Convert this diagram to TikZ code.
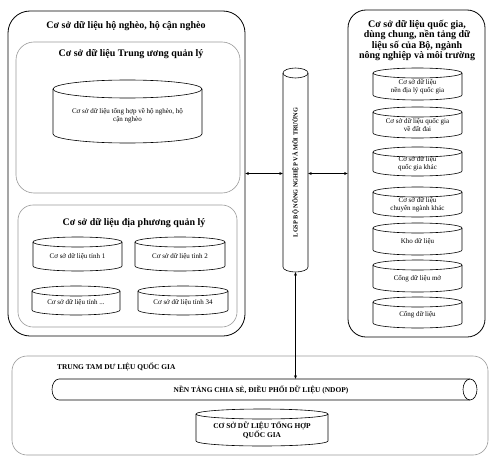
\documentclass[tikz,border=0pt]{standalone}
\usepackage{fontspec}
\setmainfont{Liberation Serif}
\usetikzlibrary{arrows.meta}
\tikzset{
  boxblack/.style={draw=black, line width=0.8pt, rounded corners=20pt, inner sep=0pt},
  boxgray/.style={draw=black!40, line width=0.6pt, rounded corners=16pt, inner sep=0pt},
  cylline/.style={draw=black, line width=0.6pt},
  ttl/.style={font=\bfseries\fontsize{10}{10.6}\selectfont, inner sep=0pt},
  ctext/.style={font=\fontsize{7}{8}\selectfont, align=center, inner sep=0pt},
  capt/.style={font=\bfseries\fontsize{7.4}{8}\selectfont, inner sep=0pt},
  link/.style={{Stealth[length=3.5pt,width=3pt]}-{Stealth[length=3.5pt,width=3pt]}, line width=0.5pt},
}
% [style] name x1 y1 x2 y2 ry text
\newcommand\dbcyl[8][]{%
  \pgfmathsetmacro\cylcx{(#3+#5)/2}%
  \pgfmathsetmacro\cylrx{(#5-#3)/2}%
  \draw[cylline] (\cylcx,#4+#7) ellipse [x radius=\cylrx, y radius=#7];
  \draw[cylline] (#3,#4+#7) -- (#3,#6-#7) arc[start angle=180, end angle=0, x radius=\cylrx, y radius=#7] -- (#5,#4+#7);
  \node[ctext, minimum width={(#5-#3)*1pt}, minimum height={(#6-#4-#7)*1pt}, #1] (#2) at (\cylcx,{(#4+#7+#6)/2}) {#8};
}
\begin{document}
\begin{tikzpicture}[x=1pt,y=-1pt]
\useasboundingbox (0,0) rectangle (495,471);

% left group
\node[boxblack, rounded corners=22pt, minimum width=237pt, minimum height=325pt] (hn) at (126.5,173.5) {};
\node[ttl] (t1) at (126,26) {Cơ sở dữ liệu hộ nghèo, hộ cận nghèo};
\node[boxgray, rounded corners=18pt, minimum width=224pt, minimum height=151pt] (tw) at (128,117.5) {};
\node[ttl] (t2) at (131,54) {Cơ sở dữ liệu Trung ương quản lý};
\dbcyl{c0}{53}{80}{202}{143}{9}{Cơ sở dữ liệu tổng hợp về hộ nghèo, hộ\\cận nghèo}
\node[boxgray, rounded corners=15pt, minimum width=219pt, minimum height=122pt] (dp) at (127.5,266) {};
\node[ttl] (t3) at (134,223) {Cơ sở dữ liệu địa phương quản lý};
\dbcyl{p1}{33}{237}{122}{271}{5}{Cơ sở dữ liệu tỉnh 1}
\dbcyl{p2}{135}{237}{225}{271}{5}{Cơ sở dữ liệu tỉnh 2}
\dbcyl{p3}{32}{286}{120}{315}{5}{Cơ sở dữ liệu tỉnh ...}
\dbcyl{p4}{138}{286}{228}{315}{5}{Cơ sở dữ liệu tỉnh 34}

% right group
\node[boxblack, rounded corners=18pt, minimum width=137pt, minimum height=327pt] (rb) at (416.5,173.5) {};
\node[ttl, align=center] (t4) at (417,40.5) {Cơ sở dữ liệu quốc gia,\\dùng chung, nền tảng dữ\\liệu số của Bộ, ngành\\nông nghiệp và môi trường};
\dbcyl{r1}{373}{68}{462}{100}{5}{Cơ sở dữ liệu\\nền địa lý quốc gia}
\dbcyl{r2}{373}{107}{462}{138}{5}{Cơ sở dữ liệu quốc gia\\về đất đai}
\dbcyl{r3}{373}{147}{462}{176}{5}{Cơ sở dữ liệu\\quốc gia khác}
\dbcyl{r4}{373}{187}{462}{217}{5}{Cơ sở dữ liệu\\chuyên ngành khác}
\dbcyl{r5}{373}{223}{462}{255}{5}{Kho dữ liệu}
\dbcyl{r6}{373}{260}{462}{292}{5}{Cổng dữ liệu mở}
\dbcyl{r7}{373}{297}{462}{328}{5}{Cổng dữ liệu}

% LGSP pipe
\dbcyl{pipe}{283}{68}{308}{272}{5}{}
\node[rotate=90, font=\bfseries\fontsize{6.3}{7}\selectfont, inner sep=0pt] (pipetxt) at (pipe.center) {LGSP BỘ NÔNG NGHIỆP VÀ MÔI TRƯỜNG};

% bottom group
\node[boxgray, rounded corners=15pt, minimum width=476pt, minimum height=99pt] (ndc) at (250,405.5) {};
\node[capt, anchor=west] (t5) at (57,367) {TRUNG TAM DƯ LIỆU QUỐC GIA};
\draw[cylline] (470,389.5) ellipse [x radius=7, y radius=10.5];
\draw[cylline] (470,379) -- (59,379) arc[start angle=270, end angle=90, x radius=7, y radius=10.5] -- (470,400);
\node[capt, minimum width=418pt, minimum height=21pt] (ndop) at (261,389.5) {NỀN TẢNG CHIA SẺ, ĐIỀU PHỐI DỮ LIỆU (NDOP)};
\dbcyl[capt, align=center, font=\bfseries\fontsize{7.4}{7.6}\selectfont]{qg}{196}{409}{328}{446}{5}{CƠ SỞ DỮ LIỆU TỔNG HỢP\\QUỐC GIA}

% connectors
\draw[link] (hn.east) -- (hn.east -| pipe.west);
\draw[link] (pipe.east |- rb.west) -- (rb.west);
\draw[link] (pipe.south) -- (pipe.south |- ndop.north);
\end{tikzpicture}
\end{document}
